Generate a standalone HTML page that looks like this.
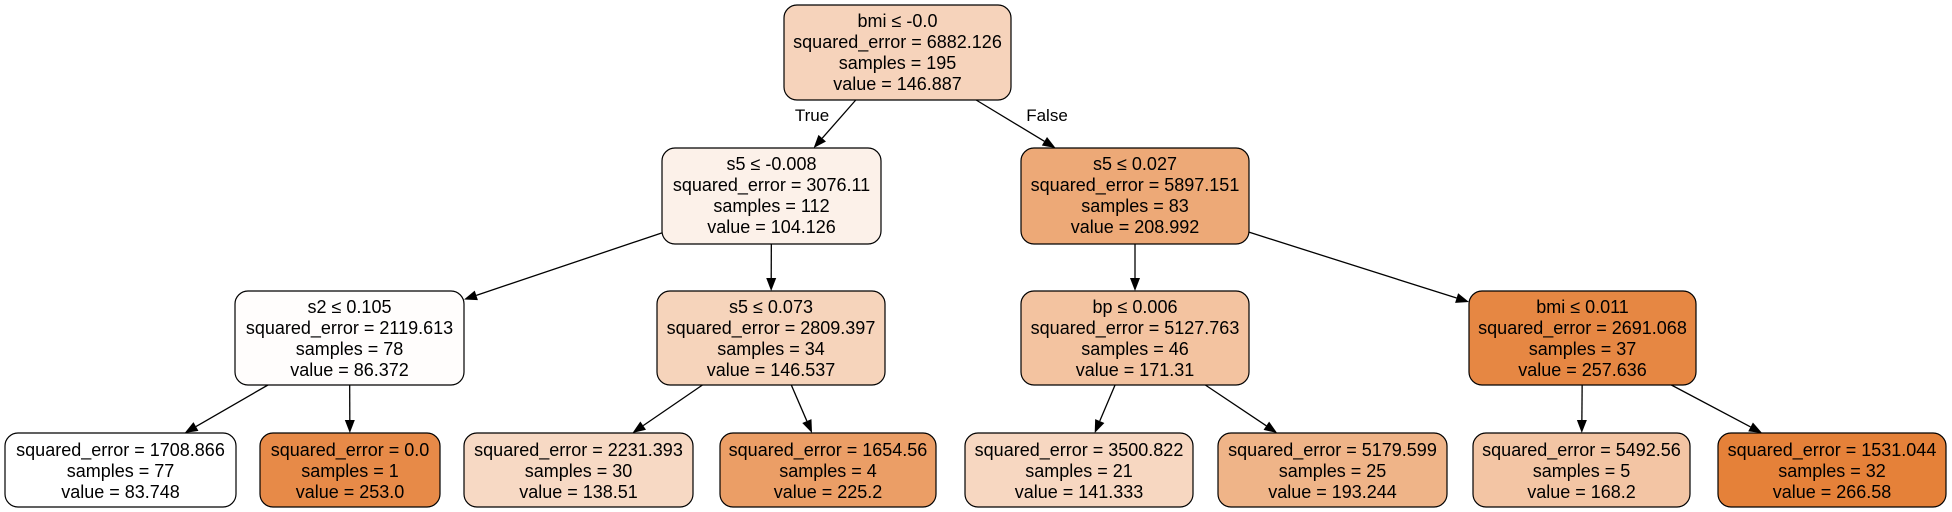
<!DOCTYPE html>
<html><head><meta charset="utf-8"><style>
body{margin:0;background:#fff;}
svg{display:block;font-family:"Liberation Sans",Arial,sans-serif;}
</style></head><body>
<svg id="tree" width="1952" height="512" viewBox="0 0 1952 512"></svg>
<script>
const nodeLabels = [
 ["bmi ≤ -0.0","squared_error = 6882.126","samples = 195","value = 146.887"],
 ["s5 ≤ -0.008","squared_error = 3076.11","samples = 112","value = 104.126"],
 ["s5 ≤ 0.027","squared_error = 5897.151","samples = 83","value = 208.992"],
 ["s2 ≤ 0.105","squared_error = 2119.613","samples = 78","value = 86.372"],
 ["s5 ≤ 0.073","squared_error = 2809.397","samples = 34","value = 146.537"],
 ["bp ≤ 0.006","squared_error = 5127.763","samples = 46","value = 171.31"],
 ["bmi ≤ 0.011","squared_error = 2691.068","samples = 37","value = 257.636"],
 ["squared_error = 1708.866","samples = 77","value = 83.748"],
 ["squared_error = 0.0","samples = 1","value = 253.0"],
 ["squared_error = 2231.393","samples = 30","value = 138.51"],
 ["squared_error = 1654.56","samples = 4","value = 225.2"],
 ["squared_error = 3500.822","samples = 21","value = 141.333"],
 ["squared_error = 5179.599","samples = 25","value = 193.244"],
 ["squared_error = 5492.56","samples = 5","value = 168.2"],
 ["squared_error = 1531.044","samples = 32","value = 266.58"]
];
const nodeValues = [146.887,104.126,208.992,86.372,146.537,171.31,257.636,83.748,253.0,138.51,225.2,141.333,193.244,168.2,266.58];
const parents = [-1,0,0,1,1,2,2,3,3,4,4,5,5,6,6];
const boxX = [[784,1011],[662,881],[1021,1249],[235,464],[657,885],[1021,1249],[1469,1696],[5,236],[260,440],[464,693],[720,936],[965,1193],[1218,1447],[1473,1690],[1718,1946]];
const rowY = [[5,100],[148,244],[291,385],[433,507]];
const depth = [0,1,1,2,2,2,2,3,3,3,3,3,3,3,3];

const svg = document.getElementById('tree');
const NS = 'http://www.w3.org/2000/svg';
const vmin = Math.min(...nodeValues), vmax = Math.max(...nodeValues);
function color(v){
  const a = (v - vmin)/(vmax - vmin);
  const c = [229,129,57];
  return 'rgb(' + c.map(k => Math.round(255*(1-a)+k*a)).join(',') + ')';
}
function mk(tag, attrs){ const e = document.createElementNS(NS, tag); for (const k in attrs) e.setAttribute(k, attrs[k]); svg.appendChild(e); return e; }
function box(i){ const [x1,x2] = boxX[i]; const [y1,y2] = rowY[depth[i]]; return {x1,x2,y1,y2,cx:(x1+x2)/2,cy:(y1+y2)/2}; }

for (let i = 1; i < nodeValues.length; i++){
  const p = box(parents[i]), c = box(i);
  const dx = c.cx - p.cx, dy = c.cy - p.cy;
  let t0 = (p.y2 - p.cy)/dy; let sx = p.cx + dx*t0, sy = p.y2;
  if (sx < p.x1 || sx > p.x2){ const bx = dx>0?p.x2:p.x1; t0=(bx-p.cx)/dx; sx=bx; sy=p.cy+dy*t0; }
  let t1 = (c.y1 - p.cy)/dy; let ex = p.cx + dx*t1, ey = c.y1;
  if (ex < c.x1 || ex > c.x2){ const bx = dx>0?c.x1:c.x2; t1=(bx-p.cx)/dx; ex=bx; ey=p.cy+dy*t1; }
  const L = Math.hypot(ex-sx, ey-sy), ux=(ex-sx)/L, uy=(ey-sy)/L;
  const ax = ex-ux*13, ay = ey-uy*13;
  const ln = mk('line',{x1:sx,y1:sy,x2:ax,y2:ay,stroke:'#000','stroke-width':1.3});
  
  
  const px=-uy*5, py=ux*5;
  const ah = mk('polygon',{points:`${ex},${ey} ${ax+px},${ay+py} ${ax-px},${ay-py}`,fill:'#000'});
  
  
}
for (let i = 0; i < nodeValues.length; i++){
  const b = box(i);
  const r = mk('rect',{x:b.x1,y:b.y1,width:b.x2-b.x1,height:b.y2-b.y1,rx:13,ry:13,fill:color(nodeValues[i]),stroke:'#000','stroke-width':1.2});
  
  
  nodeLabels[i].forEach((t, j) => {
    const tx = mk('text',{x:b.cx,y:b.y1+(depth[i]===3?23:22)+j*21,'text-anchor':'middle','font-size':18,fill:'#000'});
    tx.textContent = t;
    
    
  });
}
const tl = mk('text',{x:812,y:121,'text-anchor':'middle','font-size':17});
tl.textContent = 'True';


const fl = mk('text',{x:1047,y:121,'text-anchor':'middle','font-size':17});
fl.textContent = 'False';


</script>
</body></html>
